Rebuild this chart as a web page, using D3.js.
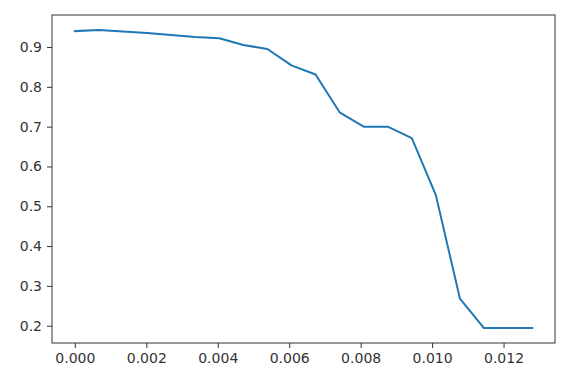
<!DOCTYPE html>
<html>
<head>
<meta charset="utf-8">
<script src="https://cdn.jsdelivr.net/npm/d3@7"></script>
<style>
  html, body { margin: 0; padding: 0; background: #fff; }
  svg { display: block; }
  text { font-family: "DejaVu Sans", sans-serif; }
</style>
</head>
<body>
<svg id="chart" width="584" height="387"></svg>
<script>
const xValues = [0, 0.000674, 0.001347, 0.002021, 0.002695, 0.003368, 0.004042, 0.004716, 0.005389, 0.006063,
                 0.006737, 0.007411, 0.008084, 0.008758, 0.009432, 0.010105, 0.010779, 0.011453, 0.012126, 0.0128];
const yValues = [0.940, 0.943, 0.939, 0.935, 0.930, 0.925, 0.922, 0.905, 0.895, 0.854,
                 0.831, 0.736, 0.700, 0.700, 0.671, 0.528, 0.268, 0.194, 0.194, 0.194];
const xTicks = [0, 0.002, 0.004, 0.006, 0.008, 0.010, 0.012];
const yTicks = [0.2, 0.3, 0.4, 0.5, 0.6, 0.7, 0.8, 0.9];

const svg = d3.select("#chart");
const mLeft = 52, mRight = 555, mTop = 15, mBottom = 343;

const xExt = d3.extent(xValues), yExt = d3.extent(yValues);
const xPad = (xExt[1] - xExt[0]) * 0.05, yPad = (yExt[1] - yExt[0]) * 0.05;
const x = d3.scaleLinear().domain([xExt[0] - xPad, xExt[1] + xPad]).range([mLeft, mRight]);
const y = d3.scaleLinear().domain([yExt[0] - yPad, yExt[1] + yPad]).range([mBottom, mTop]);

const xAxis = svg.append("g").attr("transform", `translate(0,${mBottom})`)
  .call(d3.axisBottom(x).tickValues(xTicks).tickFormat(d3.format(".3f")).tickSize(5).tickPadding(5));
const yAxis = svg.append("g").attr("transform", `translate(${mLeft},0)`)
  .call(d3.axisLeft(y).tickValues(yTicks).tickFormat(d3.format(".1f")).tickSize(5).tickPadding(5));

[xAxis, yAxis].forEach(g => {
  g.select(".domain").remove();
  g.selectAll(".tick line").attr("stroke", "#333").attr("stroke-width", 1);
  g.selectAll(".tick text").attr("fill", "#333").style("font-size", "14px")
    .style("font-family", "'DejaVu Sans', sans-serif");
});

svg.append("path")
  .datum(xValues.map((d, i) => [d, yValues[i]]))
  .attr("fill", "none")
  .attr("stroke", "#1f77b4")
  .attr("stroke-width", 2)
  .attr("stroke-linejoin", "round")
  .attr("stroke-linecap", "square")
  .attr("d", d3.line().x(d => x(d[0])).y(d => y(d[1])));

svg.append("rect")
  .attr("x", mLeft).attr("y", mTop)
  .attr("width", mRight - mLeft).attr("height", mBottom - mTop)
  .attr("fill", "none").attr("stroke", "#333").attr("stroke-width", 1);
</script>
</body>
</html>
